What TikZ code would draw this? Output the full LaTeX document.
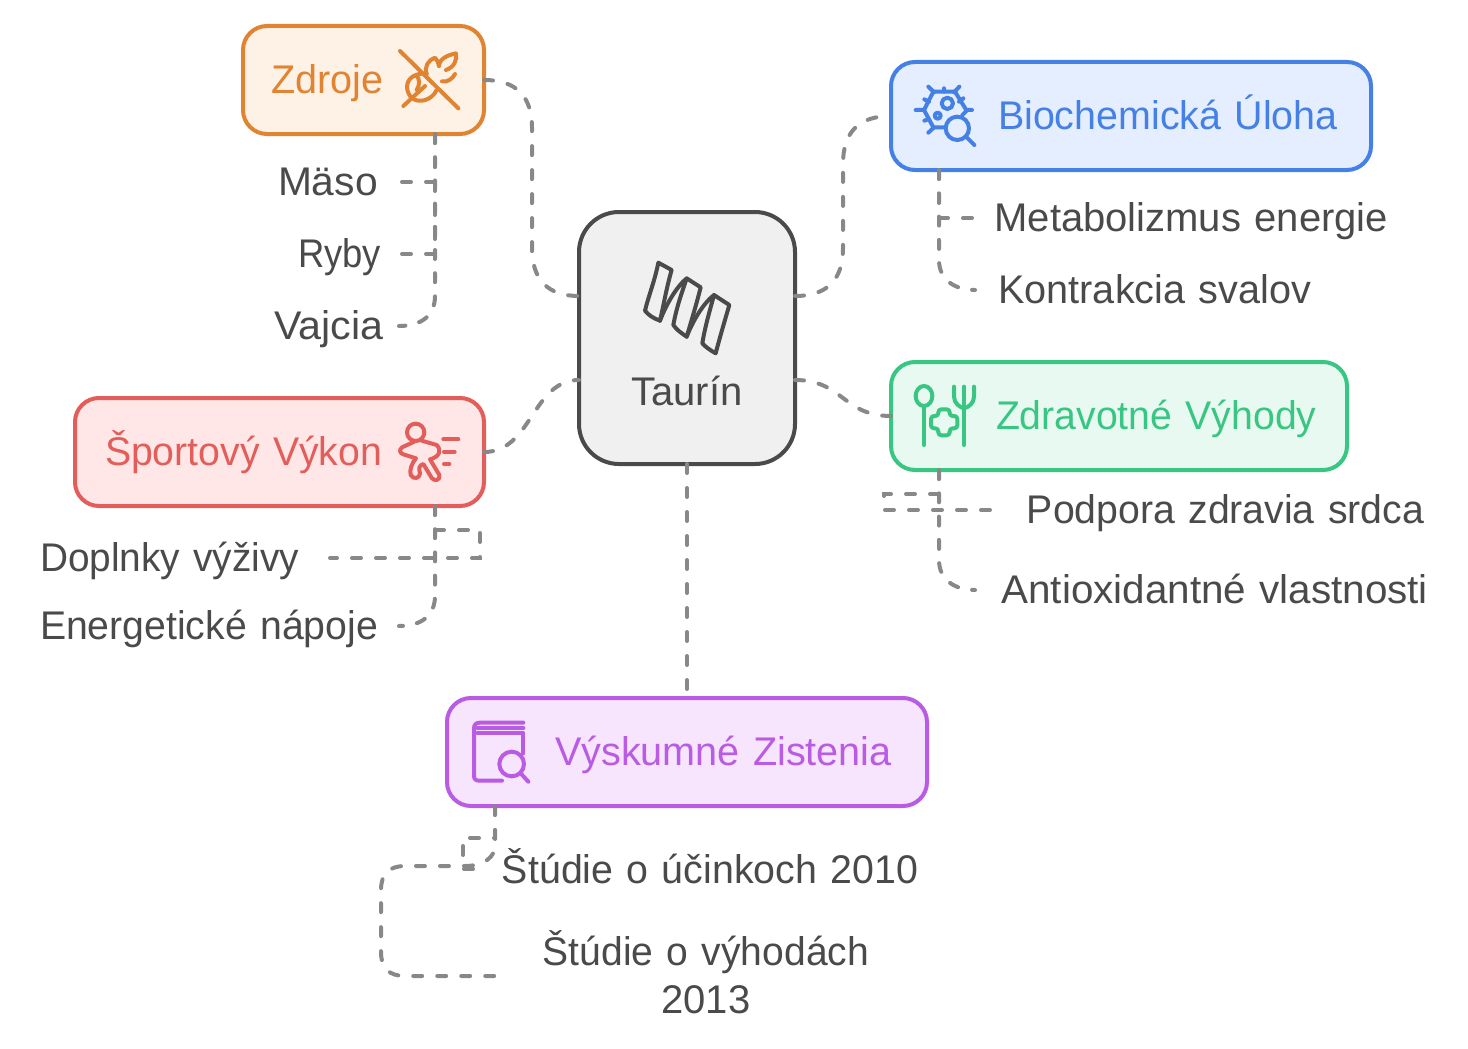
\documentclass[tikz,border=0pt]{standalone}
\usepackage{fontspec}
\setmainfont[WordSpace=0.75]{Liberation Sans}
\newcommand{\fitx}[2]{{\addfontfeature{FakeStretch=#1}#2}}
\definecolor{orangeC}{HTML}{E08432}\definecolor{orangeF}{HTML}{FEF1E6}
\definecolor{blueC}{HTML}{4480E6}\definecolor{blueF}{HTML}{E4EEFE}
\definecolor{greenC}{HTML}{38C682}\definecolor{greenF}{HTML}{E8F9F2}
\definecolor{redC}{HTML}{E35D5B}\definecolor{redF}{HTML}{FEE7E6}
\definecolor{purpleC}{HTML}{B95CE3}\definecolor{purpleF}{HTML}{F6E5FD}
\definecolor{grayC}{HTML}{4A4A4A}\definecolor{grayF}{HTML}{F0F0F0}
\definecolor{linkC}{HTML}{888888}
\tikzset{
  basebox/.style={rounded corners=24pt,line width=4pt,inner sep=0pt,outer sep=0pt,align=left,
    text height=26pt,text depth=0pt,font=\fontsize{40}{48}\selectfont},
  topicbox/.style={basebox,draw=#1C,fill=#1F,text=#1C,minimum height=108pt},
  leaf/.style={inner sep=0pt,outer sep=0pt,text=grayC,text height=26pt,text depth=0pt,
    font=\fontsize{40}{48}\selectfont},
  link/.style={draw=linkC,line width=4pt,line cap=round,dash pattern=on 9pt off 15pt},
  taillink/.style={link,dash pattern=on 9pt off #1pt},
  icon/.style={line width=4pt,line cap=round,line join=round},
}
\begin{document}
\begin{tikzpicture}[x=1pt,y=-1pt]
\useasboundingbox (0,0) rectangle (1468,1049);
% main boxes
\node[basebox,draw=grayC,fill=grayF,text=grayC,rounded corners=40pt,minimum width=216pt,minimum height=252pt,
      text width=216pt,align=center,text height=134pt] (taurin) at (687,338) {Taurín};
\node[topicbox=orange,minimum width=241pt,text width=241pt] (zdroje) at (363.5,80) {\hspace*{28pt}\fitx{0.99}{Zdroje}};
\node[topicbox=blue,minimum width=480pt,text width=480pt] (bio) at (1131,116) {\hspace*{107pt}\fitx{0.985}{Biochemická Úloha}};
\node[topicbox=green,minimum width=456pt,text width=456pt] (zdrav) at (1119,416) {\hspace*{105pt}\fitx{0.98}{Zdravotné Výhody}};
\node[topicbox=red,minimum width=409pt,text width=409pt] (sport) at (279.5,452) {\hspace*{30pt}\fitx{0.98}{Športový Výkon}};
\node[topicbox=purple,minimum width=480pt,text width=480pt] (vysk) at (687,752) {\hspace*{108pt}\fitx{0.99}{Výskumné Zistenia}};
% leaf labels
\node[leaf,anchor=west,text width=121pt,align=left] (maso) at (278,182) {\fitx{1.02}{Mäso}};
\node[leaf,anchor=west,text width=101pt,align=left] (ryby) at (298,254) {\fitx{0.91}{Ryby}};
\node[leaf,anchor=west,text width=125pt,align=left] (vajcia) at (274,326) {\fitx{1.03}{Vajcia}};
\node[leaf,anchor=west,text width=413pt,align=right] (metab) at (975,218) {Metabolizmus energie};
\node[leaf,anchor=west,text width=336pt,align=right] (kontr) at (975,290) {\fitx{0.99}{Kontrakcia svalov}};
\node[leaf,anchor=west,text width=424pt,align=right] (podp) at (1000,510) {\fitx{0.98}{Podpora zdravia srdca}};
\node[leaf,anchor=west,text width=453pt,align=right] (anti) at (975,590) {\fitx{1.01}{Antioxidantné vlastnosti}};
\node[leaf,anchor=west,text width=290pt,align=left] (dopl) at (40,558) {\fitx{0.97}{Doplnky výživy}};
\node[leaf,anchor=west,text width=359pt,align=left] (ener) at (40,626) {\fitx{0.98}{Energetické nápoje}};
\node[leaf,anchor=west,text width=442pt,align=right,text height=28pt] (st10) at (476,869) {\fitx{0.983}{Štúdie o účinkoch 2010}};
\node[leaf,anchor=west,text width=410pt,align=center,text depth=48pt] (st13) at (501,976) {\fitx{0.976}{Štúdie o výhodách}\\2013};
% branch points on box borders
\coordinate (zdrojeB) at (435,134);
\coordinate (bioB) at (939,170);
\coordinate (zdravB) at (939,470);
\coordinate (sportB) at (435,506);
\coordinate (vyskB) at (495,806);
\coordinate (taurinLu) at (579,296);
\coordinate (taurinLd) at (579,380);
\coordinate (taurinRu) at (795,296);
\coordinate (taurinRd) at (795,380);
% connectors
\draw[link] (zdroje.east) .. controls (516,80) and (532,96) .. (532,128) -- (532,248) .. controls (532,280) and (548,296) .. (taurinLu);
\draw[link] (taurinRu) .. controls (827,296) and (843,280) .. (843,248) -- (843,164) .. controls (843,132) and (859,116) .. (bio.west);
\draw[link] (taurinRd) .. controls (843,380) and (843,416) .. (zdrav.west);
\draw[link] (sport.east) .. controls (532,452) and (532,380) .. (taurinLd);
\draw[link] (taurin.south) -- (vysk.north);
\draw[link] (zdrojeB) -- (435,182) -- (maso.east);
\draw[link] (zdrojeB) -- (435,254) -- (ryby.east);
\draw[taillink=14.2] (zdrojeB) -- (435,296) .. controls (435,316) and (421,326) .. (vajcia.east);
\draw[link] (bioB) -- (939,218) -- (metab.west);
\draw[taillink=14.3] (bioB) -- (939,260) .. controls (939,280) and (955,290) .. (kontr.west);
\draw[link] (zdravB) -- (939,494) -- (884,494) -- (884,510) -- (podp.west);
\draw[taillink=14.3] (zdravB) -- (939,560) .. controls (939,580) and (955,590) .. (anti.west);
\draw[link] (sportB) -- (435,530) -- (480,530) -- (480,558) -- (dopl.east);
\draw[taillink=14.2] (sportB) -- (435,596) .. controls (435,616) and (421,626) .. (ener.east);
\draw[link] (vyskB) -- (495,838) -- (463,838) -- (463,869) -- (st10.west);
\draw[link] (vyskB) -- (495,846) .. controls (495,856) and (485,866) .. (465,866) -- (405,866) .. controls (389,866) and (381,874) .. (381,890) -- (381,952) .. controls (381,968) and (389,976) .. (405,976) -- (st13.west);
% wheat-off icon
\begin{scope}[shift={(240,10)},scale=1/3,icon,draw=orangeC]
\draw (480,123) -- (655,295);
\draw (490,288) -- (555,228);
\draw (513,262) .. controls (492,235) and (500,205) .. (528,195) .. controls (540,190) and (552,190) .. (560,192);
\draw (513,262) .. controls (535,282) and (575,272) .. (590,240);
\draw (560,192) .. controls (552,170) and (565,150) .. (585,143) .. controls (592,152) and (596,160) .. (597,168);
\draw (597,168) .. controls (598,145) and (625,135) .. (648,130) .. controls (652,150) and (642,172) .. (618,180);
\draw (606,214) .. controls (622,218) and (638,206) .. (645,192);
\draw (528,195) .. controls (540,205) and (540,225) .. (530,240);
\end{scope}
% helix icon
\begin{scope}[shift={(570,200)},scale=1/3,icon,draw=grayC]
\draw (265,188) -- (305,210) .. controls (290,260) and (280,320) .. (270,362) .. controls (250,355) and (235,345) .. (225,332) .. controls (235,290) and (255,240) .. cycle;
\draw (270,362) .. controls (290,310) and (320,260) .. (350,235) -- (392,262) .. controls (380,310) and (365,360) .. (350,410) .. controls (335,400) and (320,390) .. (310,375) .. controls (320,320) and (335,280) .. (350,235);
\draw (350,410) .. controls (370,360) and (400,310) .. (432,285) -- (478,315) .. controls (465,360) and (450,410) .. (437,460) .. controls (420,450) and (405,440) .. (397,430) .. controls (405,380) and (420,330) .. (432,285);
\end{scope}
% cell + magnifier icon
\begin{scope}[shift={(830,50)},scale=1/3,icon,draw=blueC]
\draw (345,232) -- (310,232) -- (282,180) -- (310,125) -- (375,125) -- (410,182) -- (397,195);
\draw (295,110) -- (312,127) (388,110) -- (372,127) (342,115) -- (342,125) (257,180) -- (282,180) (410,180) -- (426,180)
      (283,148) -- (297,155) (400,145) -- (387,155) (283,212) -- (297,207) (295,248) -- (312,232);
\draw (352,160) circle (17);
\draw (323,197) circle (9);
\draw (382,235) circle (35);
\draw (410,262) -- (433,285);
\end{scope}
% health food icon
\begin{scope}[shift={(790,350)},scale=1/3,icon,draw=greenC]
\draw (402,138) ellipse (25 and 30);
\draw (402,168) -- (402,285);
\draw (522,110) -- (522,285);
\draw (492,110) -- (492,140) .. controls (492,160) and (510,172) .. (522,175) .. controls (535,172) and (552,160) .. (552,140) -- (552,110);
\draw[rounded corners=3pt] (445,178) -- (479,178) -- (479,198) -- (502,198) -- (502,235) -- (479,235) -- (479,256) -- (445,256) -- (445,235) -- (423,235) -- (423,198) -- (445,198) -- cycle;
\end{scope}
% runner icon
\begin{scope}[shift={(320,390)},scale=1/3,icon,draw=redC]
\draw (287,127) circle (26);
\draw (370,148) -- (415,148) (372,185) -- (404,185) (372,222) -- (388,222);
\draw (283,155) -- (246,172) .. controls (236,180) and (240,190) .. (250,193) -- (288,205) .. controls (275,220) and (268,240) .. (272,255) .. controls (280,270) and (300,265) .. (300,250) .. controls (295,235) and (298,225) .. (310,222) -- (336,265) .. controls (345,275) and (362,270) .. (358,255) -- (330,208) .. controls (360,200) and (365,180) .. (350,165) -- (305,152);
\end{scope}
% book icon
\begin{scope}[shift={(370,690)},scale=1/3,icon,draw=purpleC]
\draw (460,98) -- (330,98) .. controls (318,98) and (312,104) .. (312,116) -- (312,258) .. controls (312,268) and (318,272) .. (328,272) -- (396,272);
\draw (322,114) -- (460,114);
\draw (322,128) -- (460,128) -- (460,190);
\draw (425,222) circle (37);
\draw (452,250) -- (475,275);
\end{scope}
\end{tikzpicture}
\end{document}
